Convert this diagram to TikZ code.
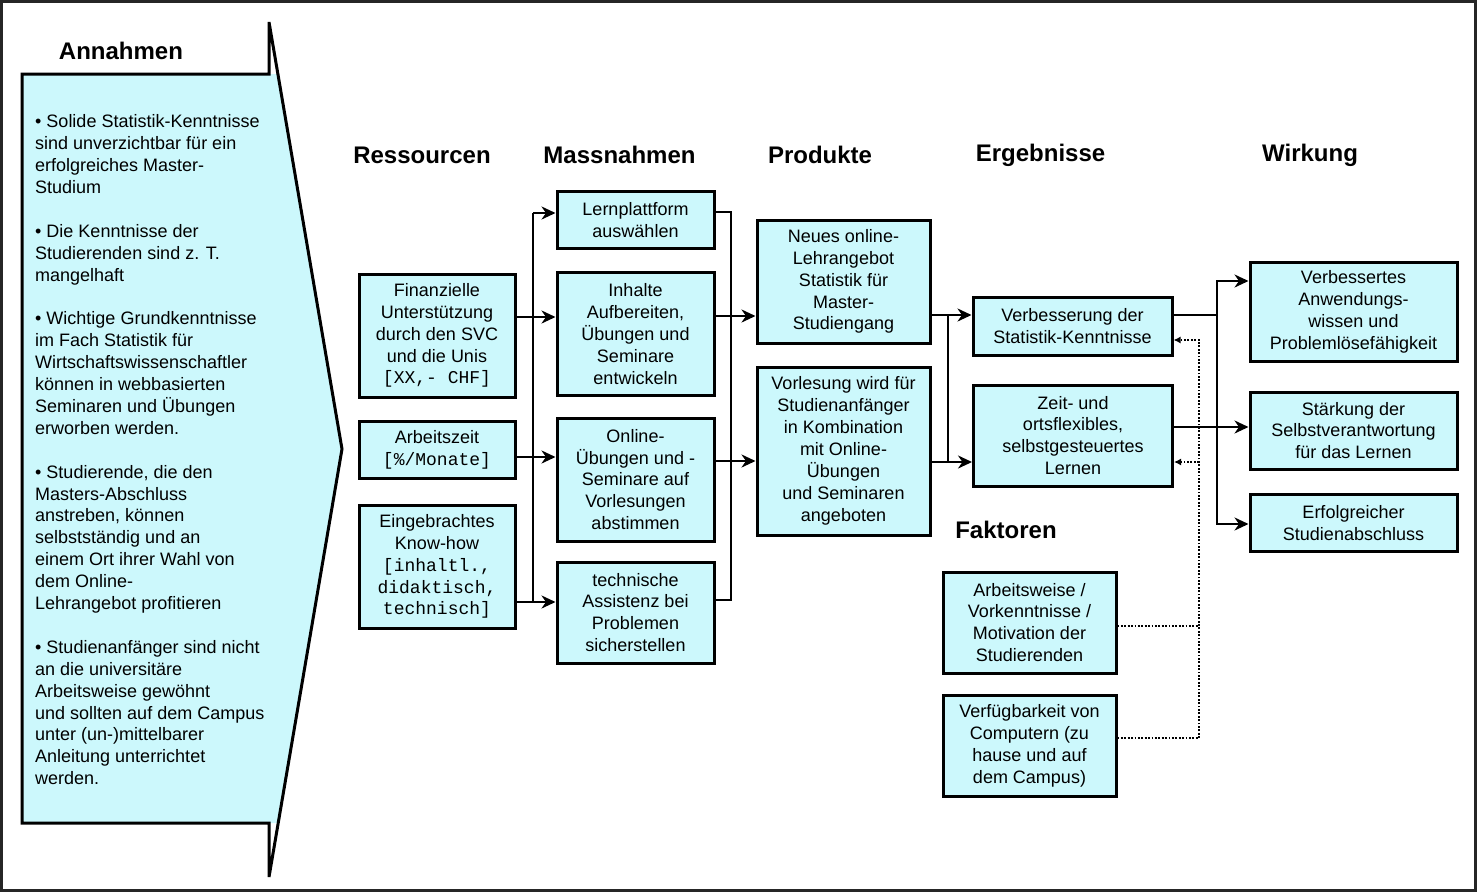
\documentclass[tikz,border=0pt]{standalone}
\usepackage{fontspec}
\setmainfont{Liberation Sans}
\setmonofont{Liberation Mono}
\usetikzlibrary{arrows.meta}
\definecolor{boxfill}{RGB}{204,248,252}
\tikzset{
  box/.style={draw, line width=3pt, fill=boxfill, align=center, inner sep=0pt,
    font=\fontsize{18}{21.9}\selectfont},
  header/.style={anchor=base, inner sep=0pt, font=\fontsize{24}{28}\selectfont\bfseries},
  conn/.style={line width=2.8pt},
  arr/.style={line width=2.8pt, -{Stealth[length=14pt,width=13pt,inset=4.5pt]}},
  dotline/.style={line width=1.8pt, dash pattern=on 1.8pt off 1.6pt},
  dotarr/.style={dotline, -{Latex[length=7pt,width=7pt]}}
}
\begin{document}
\begin{tikzpicture}[x=1pt,y=-1pt]
\useasboundingbox (0,0) rectangle (1477,892);
\draw[line width=3pt, black!85] (1,1.5) rectangle (1475,890);

% Annahmen arrow shape
\fill[boxfill] (22,74) -- (277.9,74) -- (342,449) -- (278.2,823) -- (22,823) -- cycle;
\draw[line width=3pt] (22,74) -- (269,74) -- (269,22) -- (342,449) -- (269,877) -- (269,823) -- (22,823) -- cycle;
\node[header] (hann) at (121,59) {Annahmen};
\node[anchor=north west, inner sep=0pt, align=left, font=\fontsize{18}{21.9}\selectfont] (anntext) at (35,114.5) {%
• Solide Statistik-Kenntnisse\\
sind unverzichtbar für ein\\
erfolgreiches Master-\\
Studium\\[21.9pt]
• Die Kenntnisse der\\
Studierenden sind z. T.\\
mangelhaft\\[21.9pt]
• Wichtige Grundkenntnisse\\
im Fach Statistik für\\
Wirtschaftswissenschaftler\\
können in webbasierten\\
Seminaren und Übungen\\
erworben werden.\\[21.9pt]
• Studierende, die den\\
Masters-Abschluss\\
anstreben, können\\
selbstständig und an\\
einem Ort ihrer Wahl von\\
dem Online-\\
Lehrangebot profitieren\\[21.9pt]
• Studienanfänger sind nicht\\
an die universitäre\\
Arbeitsweise gewöhnt\\
und sollten auf dem Campus\\
unter (un-)mittelbarer\\
Anleitung unterrichtet\\
werden.};

% headers
\node[header] (hres) at (422,163.5) {Ressourcen};
\node[header] (hmas) at (619.5,163.5) {Massnahmen};
\node[header] (hpro) at (820,163.5) {Produkte};
\node[header] (herg) at (1040.5,161.5) {Ergebnisse};
\node[header] (hwir) at (1310,161.5) {Wirkung};
\node[header] (hfak) at (1006,538.5) {Faktoren};

% Ressourcen
\node[box, minimum width=156pt, minimum height=123pt] (fin) at (437,335.5)
  {Finanzielle\\Unterstützung\\durch den SVC\\und die Unis\\\texttt{[XX,- CHF]}};
\node[box, minimum width=156pt, minimum height=57pt] (arb) at (437,449.5)
  {Arbeitszeit\\\texttt{[\%/Monate]}};
\node[box, minimum width=156pt, minimum height=123pt] (know) at (437,566.5)
  {Eingebrachtes\\Know-how\\\texttt{[inhaltl.,}\\\texttt{didaktisch,}\\\texttt{technisch]}};

% Massnahmen
\node[box, minimum width=157pt, minimum height=57pt] (lern) at (635.5,220)
  {Lernplattform\\auswählen};
\node[box, minimum width=157pt, minimum height=123pt] (inh) at (635.5,334)
  {Inhalte\\Aufbereiten,\\Übungen und\\Seminare\\entwickeln};
\node[box, minimum width=157pt, minimum height=123pt] (onl) at (635.5,479.5)
  {Online-\\Übungen und -\\Seminare auf\\Vorlesungen\\abstimmen};
\node[box, minimum width=157pt, minimum height=101pt] (tech) at (635.5,612.5)
  {technische\\Assistenz bei\\Problemen\\sicherstellen};

% Produkte
\node[box, minimum width=173pt, minimum height=123pt] (neu) at (843.5,281.5)
  {Neues online-\\Lehrangebot\\Statistik für\\Master-\\Studiengang};
\node[box, minimum width=173pt, minimum height=168pt] (vor) at (843.5,451)
  {Vorlesung wird für\\Studienanfänger\\in Kombination\\mit Online-\\Übungen\\und Seminaren\\angeboten};

% Ergebnisse
\node[box, minimum width=199pt, minimum height=58pt] (verb) at (1072.5,326)
  {Verbesserung der\\Statistik-Kenntnisse};
\node[box, minimum width=199pt, minimum height=101pt] (zeit) at (1073,435.5)
  {Zeit- und\\ortsflexibles,\\selbstgesteuertes\\Lernen};

% Faktoren
\node[box, minimum width=173pt, minimum height=101pt] (arbw) at (1029.5,622.5)
  {Arbeitsweise /\\Vorkenntnisse /\\Motivation der\\Studierenden};
\node[box, minimum width=173pt, minimum height=101pt] (verf) at (1029.5,745.5)
  {Verfügbarkeit von\\Computern (zu\\hause und auf\\dem Campus)};

% Wirkung
\node[box, minimum width=207pt, minimum height=99pt] (wirk1) at (1353.5,311.5)
  {Verbessertes\\Anwendungs-\\wissen und\\Problemlösefähigkeit};
\node[box, minimum width=207pt, minimum height=77pt] (wirk2) at (1353.5,430.5)
  {Stärkung der\\Selbstverantwortung\\für das Lernen};
\node[box, minimum width=207pt, minimum height=57pt] (wirk3) at (1353.5,523)
  {Erfolgreicher\\Studienabschluss};

% bus coordinates
\coordinate (b1t) at (533,213);
\coordinate (b1b) at (533,602);
\coordinate (b2t) at (731,212);
\coordinate (b2b) at (731,600);
\coordinate (b3t) at (948,315);
\coordinate (b3b) at (948,462);
\coordinate (b4) at (1217,315);
\coordinate (d1) at (1199,340);
\coordinate (d2) at (1199,462);
\coordinate (d3) at (1199,626);

% Ressourcen -> Massnahmen
\draw[conn] (b1t) -- (b1b);
\draw[arr] (b1t) -- (b1t -| lern.west);
\draw[arr] (fin.east |- 0,317) -- (inh.west |- 0,317);
\draw[arr] (arb.east |- 0,457) -- (onl.west |- 0,457);
\draw[arr] (know.east |- b1b) -- (tech.west |- b1b);

% Massnahmen -> Produkte
\draw[conn] (lern.east |- b2t) -- (b2t) -- (b2b) -- (tech.east |- b2b);
\draw[arr] (inh.east |- 0,316) -- (neu.west |- 0,316);
\draw[arr] (onl.east |- 0,461) -- (vor.west |- 0,461);

% Produkte -> Ergebnisse
\draw[conn] (b3t) -- (b3b);
\draw[arr] (neu.east |- b3t) -- (verb.west |- b3t);
\draw[arr] (vor.east |- b3b) -- (zeit.west |- b3b);

% Ergebnisse -> Wirkung
\draw[conn] (verb.east |- b4) -- (b4);
\draw[arr] (b4) |- (wirk1.west |- 0,281);
\draw[arr] (b4) |- (wirk3.west |- 0,524);
\draw[arr] (zeit.east |- 0,427) -- (wirk2.west |- 0,427);

% Faktoren (dotted)
\draw[dotarr] (arbw.east |- d3) -| (d1) -- (verb.east |- d1);
\draw[dotline] (verf.east |- 0,738) -| (d3);
\draw[dotarr] (d2) -- (zeit.east |- d2);
\end{tikzpicture}
\end{document}
